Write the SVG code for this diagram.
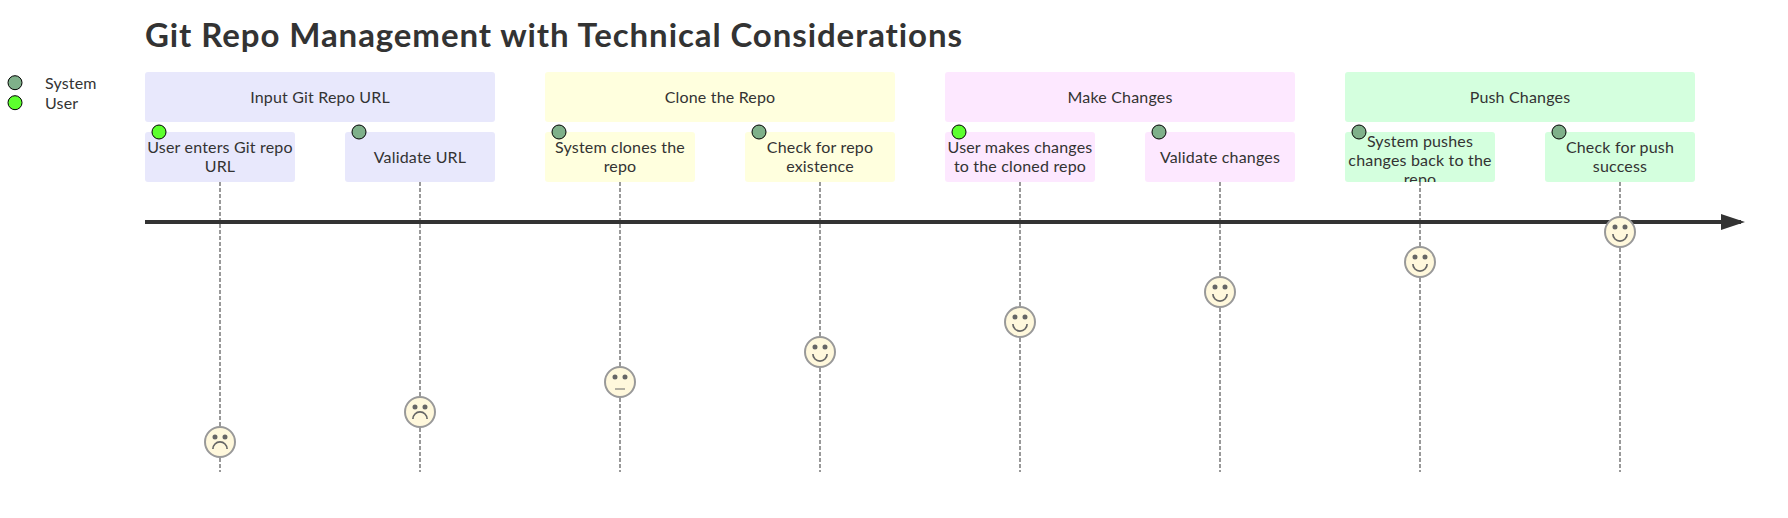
<svg xmlns="http://www.w3.org/2000/svg" width="1788" height="518" viewBox="0 0 1788 518">
<style>
text{font-family:"Lato","DejaVu Sans",sans-serif;fill:#333;font-size:16px;text-anchor:middle;letter-spacing:.18px;font-variant-ligatures:none}
.t{font-size:33px;font-weight:bold;text-anchor:start;letter-spacing:0}
.l{text-anchor:start}
.s0{fill:#E8E8FC}.s1{fill:#FFFFDE}.s2{fill:#FDE8FF}.s3{fill:#D4FFDE}
.face{fill:#FFF8DC;stroke:#999;stroke-width:2}
.eye{fill:#666;stroke:#666;stroke-width:2}
.mouth{fill:none;stroke:#666;stroke-width:1.7}
.flat{fill:none;stroke:#666;stroke-width:1}
.dash{stroke:#999;stroke-width:2;stroke-dasharray:4 2}
.u{fill:#5CFF2E;stroke:#000;stroke-width:1}.y{fill:#7FB08A;stroke:#000;stroke-width:1}
</style>
<defs>
<marker id="arrow" markerWidth="6" markerHeight="4" refX="5" refY="2" orient="auto"><path d="M0 0V4L6 2Z" fill="#333"/></marker>
<clipPath id="clip7"><rect x="1345" y="132" width="150" height="50"/></clipPath>
<g id="smile"><circle class="face" r="15"/><circle class="eye" cx="-5" cy="-5" r="1.5"/><circle class="eye" cx="5" cy="-5" r="1.5"/><path class="mouth" d="M-7.1 2A7.1 7.1 0 0 0 7.1 2"/></g>
<g id="sad"><circle class="face" r="15"/><circle class="eye" cx="-5" cy="-5" r="1.5"/><circle class="eye" cx="5" cy="-5" r="1.5"/><path class="mouth" d="M-7.1 7A7.1 7.1 0 0 1 7.1 7"/></g>
<g id="flat"><circle class="face" r="15"/><circle class="eye" cx="-5" cy="-5" r="1.5"/><circle class="eye" cx="5" cy="-5" r="1.5"/><path class="flat" d="M-5 7H5"/></g>
</defs>
<text class="t" x="145" y="47" textLength="817">Git Repo Management with Technical Considerations</text>
<g id="legend"><circle class="y" cx="15" cy="82.7" r="7"/><circle class="u" cx="15" cy="102.7" r="7"/><text class="l" x="45" y="89">System</text><text class="l" x="45" y="109">User</text></g>
<g id="connectors">
<line class="dash" x1="220" y1="182" x2="220" y2="472"/><line class="dash" x1="420" y1="182" x2="420" y2="472"/><line class="dash" x1="620" y1="182" x2="620" y2="472"/><line class="dash" x1="820" y1="182" x2="820" y2="472"/><line class="dash" x1="1020" y1="182" x2="1020" y2="472"/><line class="dash" x1="1220" y1="182" x2="1220" y2="472"/><line class="dash" x1="1420" y1="182" x2="1420" y2="472"/><line class="dash" x1="1620" y1="182" x2="1620" y2="472"/>
<line x1="145" y1="222" x2="1741" y2="222" stroke="#333" stroke-width="4" marker-end="url(#arrow)"/>
</g>
<g id="sec1"><rect class="s0" x="145" y="72" width="350" height="50" rx="3"/><text x="320" y="102.500">Input Git Repo URL</text></g>
<g id="sec2"><rect class="s1" x="545" y="72" width="350" height="50" rx="3"/><text x="720" y="102.500">Clone the Repo</text></g>
<g id="sec3"><rect class="s2" x="945" y="72" width="350" height="50" rx="3"/><text x="1120" y="102.500">Make Changes</text></g>
<g id="sec4"><rect class="s3" x="1345" y="72" width="350" height="50" rx="3"/><text x="1520" y="102.500">Push Changes</text></g>
<g id="task1"><rect class="s0" x="145" y="132" width="150" height="50" rx="3"/><text x="220" y="153">User enters Git repo</text><text x="220" y="172">URL</text><circle class="u" cx="159" cy="132" r="7"/></g>
<g id="task2"><rect class="s0" x="345" y="132" width="150" height="50" rx="3"/><text x="420" y="163">Validate URL</text><circle class="y" cx="359" cy="132" r="7"/></g>
<g id="task3"><rect class="s1" x="545" y="132" width="150" height="50" rx="3"/><text x="620" y="153">System clones the</text><text x="620" y="172">repo</text><circle class="y" cx="559" cy="132" r="7"/></g>
<g id="task4"><rect class="s1" x="745" y="132" width="150" height="50" rx="3"/><text x="820" y="153">Check for repo</text><text x="820" y="172">existence</text><circle class="y" cx="759" cy="132" r="7"/></g>
<g id="task5"><rect class="s2" x="945" y="132" width="150" height="50" rx="3"/><text x="1020" y="153">User makes changes</text><text x="1020" y="172">to the cloned repo</text><circle class="u" cx="959" cy="132" r="7"/></g>
<g id="task6"><rect class="s2" x="1145" y="132" width="150" height="50" rx="3"/><text x="1220" y="163">Validate changes</text><circle class="y" cx="1159" cy="132" r="7"/></g>
<g id="task7"><rect class="s3" x="1345" y="132" width="150" height="50" rx="3"/><g clip-path="url(#clip7)"><text x="1420" y="146.500">System pushes</text><text x="1420" y="165.500">changes back to the</text><text x="1420" y="184.500">repo</text></g><circle class="y" cx="1359" cy="132" r="7"/></g>
<g id="task8"><rect class="s3" x="1545" y="132" width="150" height="50" rx="3"/><text x="1620" y="153">Check for push</text><text x="1620" y="172">success</text><circle class="y" cx="1559" cy="132" r="7"/></g>
<g id="faces">
<use href="#sad" x="220" y="442"/><use href="#sad" x="420" y="412"/><use href="#flat" x="620" y="382"/><use href="#smile" x="820" y="352"/><use href="#smile" x="1020" y="322"/><use href="#smile" x="1220" y="292"/><use href="#smile" x="1420" y="262"/><use href="#smile" x="1620" y="232"/>
</g>
</svg>
